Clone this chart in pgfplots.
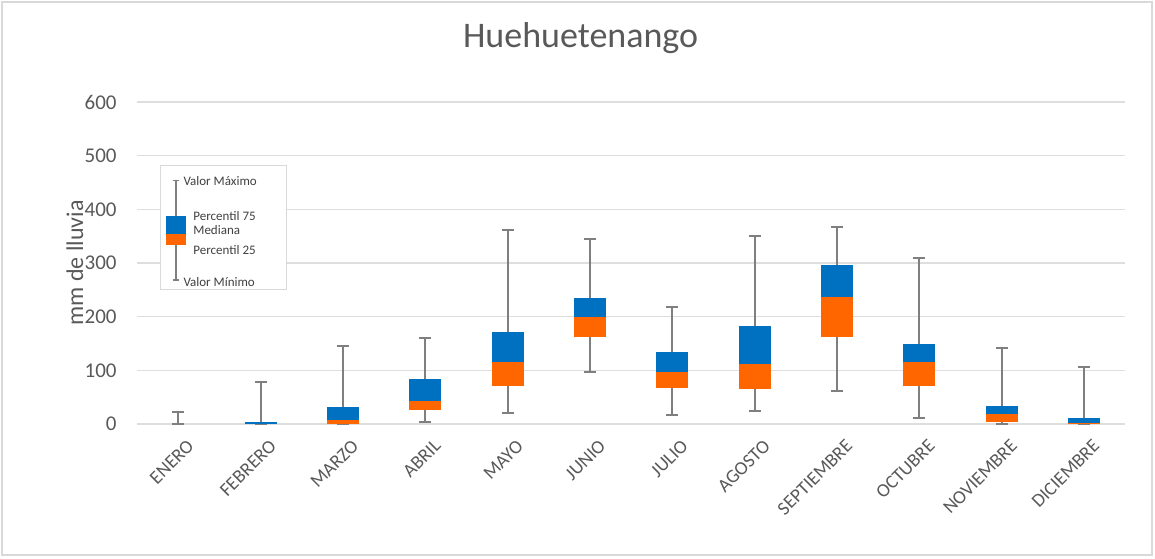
\documentclass[border=0pt]{standalone}
\usepackage{pgfplots}
\pgfplotsset{compat=1.18}
\usepackage{pgfplotstable}
\usepackage{fontspec}
\setmainfont{Carlito}

\definecolor{boxblue}{HTML}{0070C0}
\definecolor{boxorange}{HTML}{FF6600}
\definecolor{whisk}{HTML}{7F7F7F}
\definecolor{txt}{HTML}{595959}

% monthly rainfall (mm): minimum, percentile 25, median, percentile 75, maximum
\pgfplotstableread{
x  vmin q1  med q3  vmax
0  0    0   0   0   23
1  0    0   0   3   78
2  0    0   7   32  145
3  3    26  43  84  160
4  20   71  115 171 361
5  97   162 199 234 344
6  17   67  97  134 218
7  24   65  112 182 350
8  62   163 237 296 368
9  11   70  116 149 309
10 0    3   18  33  141
11 0    0   1   11  106
}\rain

\begin{document}
\begin{tikzpicture}[font=\fontsize{9.5}{11}\selectfont]
  \useasboundingbox (-68.5pt,-67pt) rectangle (509pt,212pt);
  \draw[black!15, line width=0.8pt] (-67.5pt,-65.5pt) rectangle (507.5pt,211pt);
  \begin{axis}[
      at={(0pt,0pt)}, anchor=south west,
      scale only axis,
      width=494pt, height=161pt,
      xmin=-0.5, xmax=11.5,
      ymin=0, ymax=600,
      xtick={0,...,11},
      xticklabels={ENERO,FEBRERO,MARZO,ABRIL,MAYO,JUNIO,JULIO,AGOSTO,SEPTIEMBRE,OCTUBRE,NOVIEMBRE,DICIEMBRE},
      ytick={0,100,...,600},
      axis line style={draw=none},
      tick style={draw=none},
      ymajorgrids,
      grid style={black!13, line width=0.8pt},
      ticklabel style={text=txt},
      /pgf/number format/assume math mode=true,
      yticklabel style={font=\fontsize{10.5}{12}\selectfont, anchor=east, inner sep=0pt, xshift=-10pt},
      xticklabel style={font=\fontsize{9.5}{11}\selectfont, inner sep=0pt, xshift=4pt, yshift=-7pt, rotate=45, anchor=north east},
      title={Huehuetenango},
      title style={font=\fontsize{18}{21}\selectfont, text=txt, at={(axis description cs:0.449,1)}, anchor=center, yshift=26pt},
      ylabel={mm de lluvia},
      ylabel style={font=\fontsize{12}{14}\selectfont, text=txt, at={(axis description cs:-0.0628,0.5)}, anchor=center},
    ]
    % whiskers: minimum to maximum
    \addplot[draw=none, mark=none,
      error bars/.cd, y dir=both, y explicit,
      error bar style={whisk, line width=1pt},
      error mark options={rotate=90, whisk, line width=1pt, mark size=3pt}]
      table[x=x, y=q1,
        y error plus expr=\thisrow{vmax}-\thisrow{q1},
        y error minus expr=\thisrow{q1}-\thisrow{vmin}] {\rain};
    % box, percentile 25 to median
    \addplot[draw=none, mark=none,
      error bars/.cd, y dir=plus, y explicit, error mark=none,
      error bar style={boxorange, line width=16pt, line cap=butt}]
      table[x=x, y=q1, y error expr=\thisrow{med}-\thisrow{q1}] {\rain};
    % box, median to percentile 75
    \addplot[draw=none, mark=none,
      error bars/.cd, y dir=plus, y explicit, error mark=none,
      error bar style={boxblue, line width=16pt, line cap=butt}]
      table[x=x, y=med, y error expr=\thisrow{q3}-\thisrow{med}] {\rain};

    % legend key
    \draw[black!15, fill=white] (axis cs:-0.22,250) rectangle (axis cs:1.32,482);
    \draw[whisk, line width=0.8pt] (axis cs:-0.026,268) -- (axis cs:-0.026,454);
    \draw[whisk, line width=0.8pt] ([xshift=-1.5pt]axis cs:-0.026,454) -- ([xshift=1.5pt]axis cs:-0.026,454);
    \draw[whisk, line width=0.8pt] ([xshift=-1.5pt]axis cs:-0.026,268) -- ([xshift=1.5pt]axis cs:-0.026,268);
    \fill[boxorange] (axis cs:-0.15,333) rectangle (axis cs:0.095,354);
    \fill[boxblue] (axis cs:-0.15,354) rectangle (axis cs:0.095,387);
    \begin{scope}[every node/.style={font=\fontsize{6.5}{7}\selectfont, text=black!75, anchor=west, inner sep=0pt}]
      \node at (axis cs:0.06,452) {Valor Máximo};
      \node at (axis cs:0.18,387) {Percentil 75};
      \node at (axis cs:0.18,362) {Mediana};
      \node at (axis cs:0.18,325) {Percentil 25};
      \node at (axis cs:0.06,264) {Valor Mínimo};
    \end{scope}
  \end{axis}
\end{tikzpicture}
\end{document}
